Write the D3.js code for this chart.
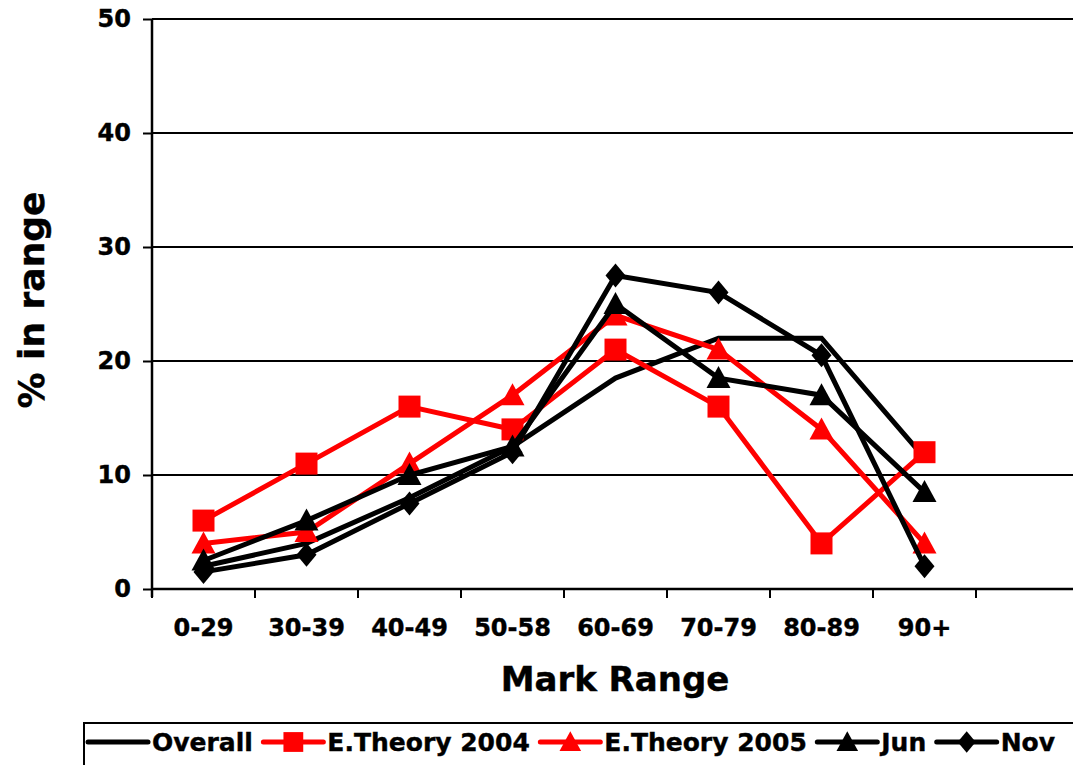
<!DOCTYPE html>
<html>
<head>
<meta charset="utf-8">
<script src="https://cdn.jsdelivr.net/npm/d3@7"></script>
<style>
  html, body { margin: 0; padding: 0; background: #fff; overflow: hidden; }
  svg { display: block; }
  text { font-family: "DejaVu Sans", Verdana, sans-serif; font-weight: bold; fill: #000; stroke: #000; stroke-width: 0.4px; }
</style>
</head>
<body>
<svg id="chart" width="1073" height="765"></svg>
<script>
// ---- data ----
const categories = ["0-29", "30-39", "40-49", "50-58", "60-69", "70-79", "80-89", "90+"];
const seriesNames = ["Overall", "E.Theory 2004", "E.Theory 2005", "Jun", "Nov"];
const overall   = [2,   4,  8,  12.5, 18.5, 22,   22,   11.5];
const eTheory04 = [6,  11, 16,  14,   21,   16,   4,    12];
const eTheory05 = [4,   5, 11,  17,   24,   21,   14,   4];
const jun       = [2.5, 6, 10,  12.5, 25,   18.5, 17,   8.5];
const nov       = [1.5, 3, 7.5, 12,   27.5, 26,   20.5, 2];
const yTicks = [0, 10, 20, 30, 40, 50];

const seriesValues = [overall, eTheory04, eTheory05, jun, nov];
const seriesColors = ["#000", "#ff0000", "#ff0000", "#000", "#000"];
const seriesMarkers = ["none", "square", "triangle", "triangle", "diamond"];

// ---- layout ----
const svg = d3.select("#chart");
const plotLeft = 152, plotTop = 19, plotBottom = 589, bandW = 103;
const slots = categories.concat([""]); // extra empty slot at the right
const x = d3.scaleBand().domain(slots.map((d, i) => i)).range([plotLeft, plotLeft + bandW * slots.length]).padding(0);
const y = d3.scaleLinear().domain([0, 50]).range([plotBottom, plotTop]);
const xc = i => x(i) + x.bandwidth() / 2;
const plotRight = plotLeft + bandW * slots.length;

// gridlines
svg.append("g").selectAll("line").data(yTicks.filter(d => d > 0)).join("line")
  .attr("x1", plotLeft).attr("x2", plotRight)
  .attr("y1", d => y(d)).attr("y2", d => y(d))
  .attr("stroke", "#000").attr("stroke-width", 2);

// y axis
const yAxis = d3.axisLeft(y).tickValues(yTicks).tickSize(9).tickPadding(12);
const gy = svg.append("g").attr("transform", `translate(${plotLeft},0)`).call(yAxis);
gy.select(".domain").attr("stroke", "#000").attr("stroke-width", 2.5).attr("d", `M0,${plotTop}V${plotBottom + 8}`);
gy.selectAll(".tick line").attr("stroke", "#000").attr("stroke-width", 2);
gy.selectAll(".tick text").style("font-size", "24px").style("font-family", "DejaVu Sans").style("font-weight", "bold").attr("fill", "#000");

// x axis
const xAxis = d3.axisBottom(x).tickSize(0).tickFormat(i => slots[i]);
const gx = svg.append("g").attr("transform", `translate(0,${plotBottom})`).call(xAxis);
gx.select(".domain").attr("stroke", "#000").attr("stroke-width", 2.5).attr("d", `M${plotLeft},0H${plotRight}`);
gx.selectAll(".tick text").attr("dy", null).attr("y", 47).style("font-size", "24px").style("font-family", "DejaVu Sans").style("font-weight", "bold").attr("fill", "#000");
// boundary tick marks
svg.append("g").selectAll("line").data(d3.range(slots.length + 1)).join("line")
  .attr("x1", i => plotLeft + i * bandW).attr("x2", i => plotLeft + i * bandW)
  .attr("y1", plotBottom).attr("y2", plotBottom + 9)
  .attr("stroke", "#000").attr("stroke-width", 2);

// axis titles
svg.append("text").attr("x", 615).attr("y", 691).attr("text-anchor", "middle")
  .style("font-size", "34px").text("Mark Range");
svg.append("text").attr("transform", "translate(44,300) rotate(-90)").attr("text-anchor", "middle")
  .style("font-size", "36px").text("% in range");

// markers
function markerPath(type) {
  if (type === "square") return "M-11,-11H11V11H-11Z";
  if (type === "triangle") return "M0,-12L12,10H-12Z";
  if (type === "diamond") return "M0,-12L10,0L0,12L-10,0Z";
  return null;
}

const line = d3.line().x((d, i) => xc(i)).y(d => y(d));
seriesValues.forEach((vals, s) => {
  const g = svg.append("g");
  g.append("path").datum(vals).attr("d", line)
    .attr("fill", "none").attr("stroke", seriesColors[s]).attr("stroke-width", 5)
    .attr("stroke-linejoin", "miter");
  const mp = markerPath(seriesMarkers[s]);
  if (mp) {
    g.selectAll("path.m").data(vals).join("path").attr("class", "m")
      .attr("d", mp).attr("transform", (d, i) => `translate(${xc(i)},${y(d)})`)
      .attr("fill", seriesColors[s]);
  }
});

// legend
const leg = svg.append("g");
leg.append("rect").attr("x", 84).attr("y", 723).attr("width", 1000).attr("height", 50)
  .attr("fill", "#fff").attr("stroke", "#000").attr("stroke-width", 2);
let lx = 88;
const ly = 742;
seriesNames.forEach((name, s) => {
  leg.append("line").attr("x1", lx).attr("x2", lx + 60).attr("y1", ly).attr("y2", ly)
    .attr("stroke", seriesColors[s]).attr("stroke-width", 5).attr("stroke-linecap", "round");
  const mp = markerPath(seriesMarkers[s]);
  if (mp) leg.append("path").attr("d", mp).attr("transform", `translate(${lx + 30},${ly}) scale(0.9)`).attr("fill", seriesColors[s]);
  const t = leg.append("text").attr("x", lx + 64).attr("y", ly + 9).style("font-size", "25px").text(name);
  lx = lx + 64 + t.node().getComputedTextLength() + 10.5;
});
</script>
</body>
</html>
